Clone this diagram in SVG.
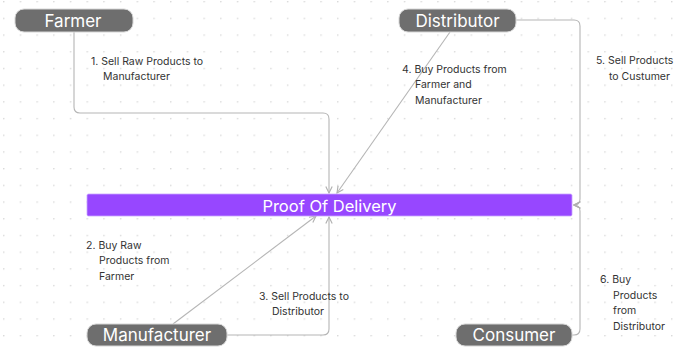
<svg xmlns="http://www.w3.org/2000/svg" width="683" height="347" viewBox="0 0 683 347">
<defs>
<pattern id="grid" x="3" y="1" width="16.7" height="16.7" patternUnits="userSpaceOnUse">
<circle cx="0.8" cy="0.8" r="0.75" fill="#cfcfcf"/>
</pattern>
<marker id="arr" viewBox="0 0 10 10" refX="9" refY="5" markerWidth="8" markerHeight="8" markerUnits="userSpaceOnUse" orient="auto">
<path d="M1,1 L9,5 L1,9" fill="none" stroke="#b0b0b0" stroke-width="1.4"/>
</marker>
</defs>
<style>
.node rect{fill:#6e6e6e;stroke:#d6d6d6;stroke-width:1}
.node text{fill:#ffffff;font-family:Inter,"Liberation Sans",sans-serif;font-size:17px;text-anchor:middle;dominant-baseline:central}
.conn{fill:none;stroke:#b5b5b5;stroke-width:1.1}
.lbl{fill:#333333;font-family:Inter,"Liberation Sans",sans-serif;font-size:10.5px}
</style>
<rect width="683" height="347" fill="#ffffff"/>
<rect width="683" height="347" fill="url(#grid)"/>
<g id="connectors">
<path class="conn" d="M74,32 V107 Q74,113 80,113 H323 Q329,113 329,119 V193" marker-end="url(#arr)"/>
<path class="conn" d="M450,32 L337,193" marker-end="url(#arr)"/>
<path class="conn" d="M516,20 H574 Q580,20 580,26 V199 Q580,205 574,205" marker-end="url(#arr)"/>
<path class="conn" d="M572,335 H574 Q580,335 580,329 V211 Q580,205 574,205" marker-end="url(#arr)"/>
<path class="conn" d="M173,324 L316,216" marker-end="url(#arr)"/>
<path class="conn" d="M227,335 H323 Q329,335 329,329 V217" marker-end="url(#arr)"/>
</g>
<g id="farmer" class="node">
<rect x="15" y="9" width="118" height="23" rx="9"/>
<text x="73" y="20.5">Farmer</text>
</g>
<g id="distributor" class="node">
<rect x="399" y="9" width="117" height="23" rx="9"/>
<text x="457.5" y="20.5">Distributor</text>
</g>
<g id="proof">
<rect x="87" y="194" width="485" height="22" rx="1.5" fill="#9747ff" stroke="#c9a6ff" stroke-width="0.8"/>
<text x="329.5" y="205.5" fill="#ffffff" font-family="Inter,'Liberation Sans',sans-serif" font-size="16.5" text-anchor="middle" dominant-baseline="central">Proof Of Delivery</text>
</g>
<g id="manufacturer" class="node">
<rect x="87" y="324" width="140" height="22" rx="9"/>
<text x="157" y="335">Manufacturer</text>
</g>
<g id="consumer" class="node">
<rect x="456" y="324" width="116" height="22" rx="9"/>
<text x="514" y="335">Consumer</text>
</g>
<g id="labels">
<text class="lbl" x="91" y="64.5">1. Sell Raw Products to</text>
<text class="lbl" x="103" y="79.5">Manufacturer</text>
<text class="lbl" x="86" y="248.5">2. Buy Raw</text>
<text class="lbl" x="99" y="264">Products from</text>
<text class="lbl" x="99" y="279.5">Farmer</text>
<text class="lbl" x="259" y="299.5">3. Sell Products to</text>
<text class="lbl" x="272" y="315">Distributor</text>
<text class="lbl" x="402" y="72.5">4. Buy Products from</text>
<text class="lbl" x="415" y="88">Farmer and</text>
<text class="lbl" x="415" y="103.5">Manufacturer</text>
<text class="lbl" x="596" y="64">5. Sell Products</text>
<text class="lbl" x="609" y="79.5">to Custumer</text>
<text class="lbl" x="600" y="283">6. Buy</text>
<text class="lbl" x="613" y="298.5">Products</text>
<text class="lbl" x="613" y="314">from</text>
<text class="lbl" x="613" y="329.5">Distributor</text>
</g>
</svg>
